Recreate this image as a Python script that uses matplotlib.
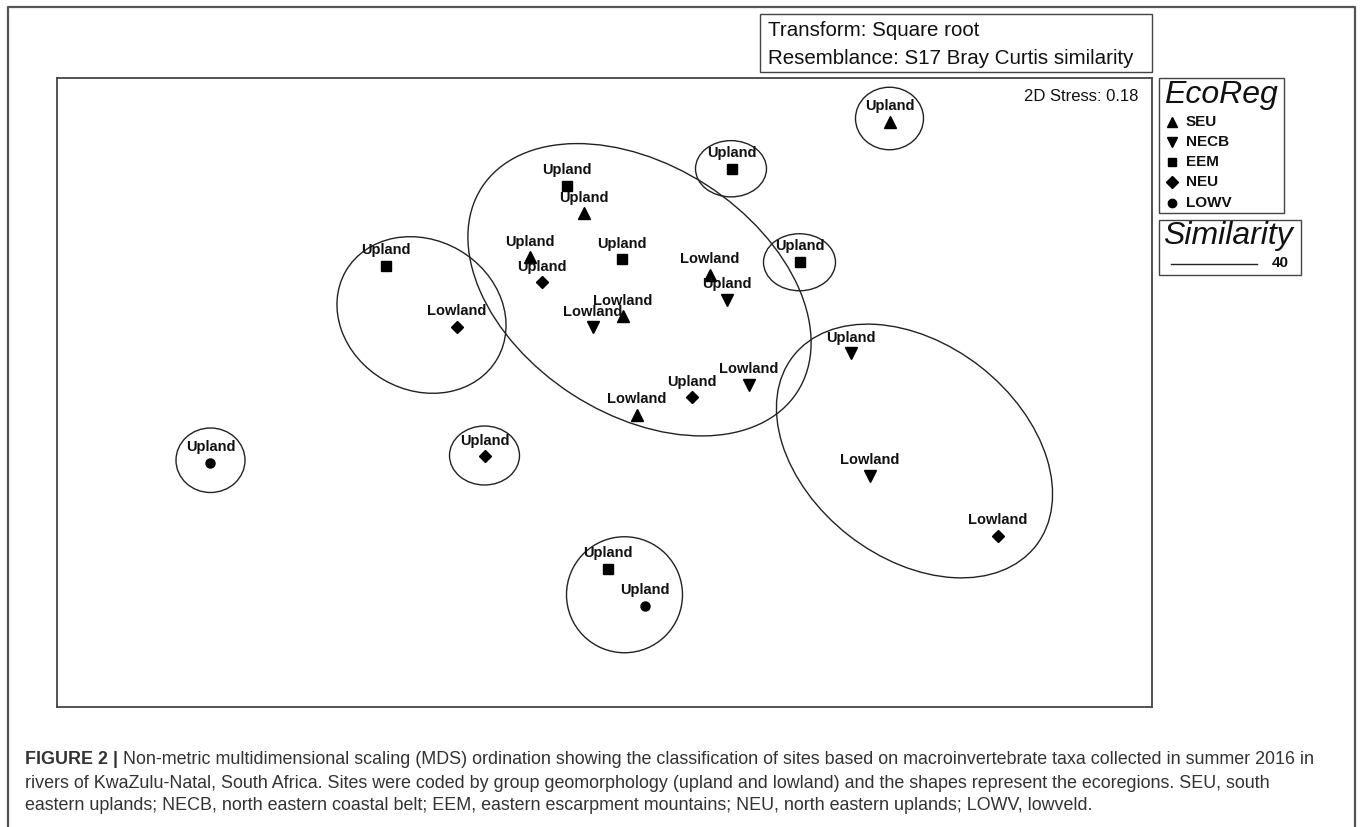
import matplotlib
matplotlib.use('Agg')
import matplotlib.pyplot as plt
from matplotlib.patches import Ellipse, Rectangle
from matplotlib.lines import Line2D

plt.rcParams['font.family'] = ['Liberation Sans', 'DejaVu Sans']

# MDS site scores (MDS1, MDS2)
mds1 = [1.14, 0.508, -0.152, -0.084, -0.30, 0.068, -0.252, -0.876, 0.78, 0.42, 0.488, 0.072,
        -0.048, -0.592, 0.984, 0.576, 0.348, 0.128, -1.576, -0.48, 1.06, 1.572, 0.012, 0.16]
mds2 = [1.079, 0.891, 0.825, 0.714, 0.538, 0.530, 0.438, 0.504, 0.519, 0.468, 0.368, 0.302,
        0.258, 0.261, 0.154, 0.029, -0.022, -0.092, -0.284, -0.258, -0.336, -0.575, -0.708, -0.855]
ecoreg = ['SEU', 'EEM', 'EEM', 'SEU', 'SEU', 'EEM', 'NEU', 'EEM', 'EEM', 'SEU', 'NECB', 'SEU',
          'NECB', 'NEU', 'NECB', 'NECB', 'NEU', 'SEU', 'LOWV', 'NEU', 'NECB', 'NEU', 'EEM', 'LOWV']
geomorph = ['Upland', 'Upland', 'Upland', 'Upland', 'Upland', 'Upland', 'Upland', 'Upland', 'Upland',
            'Lowland', 'Upland', 'Lowland', 'Lowland', 'Lowland', 'Upland', 'Lowland', 'Upland',
            'Lowland', 'Upland', 'Upland', 'Lowland', 'Lowland', 'Upland', 'Upland']

# similarity 40 contours: centre x, centre y, width, height, angle
cont_x = [0.14, -0.732, 1.24, 1.14, 0.506, 0.78, -1.576, -0.48, 0.08]
cont_y = [0.409, 0.308, -0.236, 1.094, 0.893, 0.519, -0.273, -0.254, -0.811]
cont_w = [1.504, 0.70, 1.232, 0.272, 0.284, 0.288, 0.276, 0.28, 0.464]
cont_h = [0.995, 0.60, 0.856, 0.25, 0.225, 0.228, 0.258, 0.236, 0.464]
cont_a = [-33, -30, -38, 0, 0, 0, 0, 0, 0]

regions = ['SEU', 'NECB', 'EEM', 'NEU', 'LOWV']
markers = {'SEU': '^', 'NECB': 'v', 'EEM': 's', 'NEU': 'D', 'LOWV': 'o'}
msizes = {'SEU': 8, 'NECB': 8, 'EEM': 7, 'NEU': 6, 'LOWV': 6.5}
leg_sizes = {'SEU': 7.5, 'NECB': 7.5, 'EEM': 6, 'NEU': 6, 'LOWV': 6}

W, H = 1363, 827
fig = plt.figure(figsize=(W / 100, H / 100), dpi=100)


def fx(px):
    return px / W


def fy(py):
    return 1 - py / H


# outer frame
fig.add_artist(Line2D([fx(8), fx(8), fx(1355), fx(1355)], [0, fy(7), fy(7), 0],
                      color='#555555', lw=1.6))

ax = fig.add_axes([fx(57), fy(707), fx(1152 - 57), (707 - 78) / H])
ax.set_xlim(-2.19, 2.19)
ax.set_ylim(-1.26, 1.256)
ax.set_xticks([])
ax.set_yticks([])
for s in ax.spines.values():
    s.set_color('#444444')
    s.set_linewidth(1.3)

for i in range(len(cont_x)):
    ax.add_patch(Ellipse((cont_x[i], cont_y[i]), cont_w[i], cont_h[i], angle=cont_a[i],
                         fill=False, ec='#222222', lw=1.0))

for r in regions:
    xs = [mds1[i] for i in range(len(mds1)) if ecoreg[i] == r]
    ys = [mds2[i] for i in range(len(mds2)) if ecoreg[i] == r]
    ax.plot(xs, ys, ls='none', marker=markers[r], ms=msizes[r], color='black')

for i in range(len(mds1)):
    ax.annotate(geomorph[i], (mds1[i], mds2[i]), xytext=(0, 11.5), textcoords='offset points',
                ha='center', va='center', fontsize=10.5, fontweight='bold', color='#111111')

ax.text(0.988, 0.97, '2D Stress: 0.18', transform=ax.transAxes, ha='right', va='center',
        fontsize=12, color='#111111')

# transform / resemblance box
fig.add_artist(Rectangle((fx(760), fy(72)), fx(1152 - 760), (72 - 14) / H, transform=fig.transFigure,
                         fill=False, ec='#444444', lw=1.0))
fig.text(fx(768), fy(30), 'Transform: Square root', fontsize=14.8, va='center', color='#111111')
fig.text(fx(768), fy(58), 'Resemblance: S17 Bray Curtis similarity', fontsize=14.8, va='center',
         color='#111111')

# EcoReg legend
fig.add_artist(Rectangle((fx(1159), fy(213)), fx(1284 - 1159), (213 - 78) / H, transform=fig.transFigure,
                         fill=False, ec='#444444', lw=1.0))
fig.text(fx(1164), fy(95), 'EcoReg', fontsize=23, style='italic', va='center', color='#111111')
leg_y = [122, 142, 162, 182, 203]
for r, py in zip(regions, leg_y):
    fig.add_artist(Line2D([fx(1172)], [fy(py)], ls='none', marker=markers[r], ms=leg_sizes[r],
                          color='black'))
    fig.text(fx(1186), fy(py), r, fontsize=11, fontweight='bold', va='center', color='#111111')

# Similarity legend
fig.add_artist(Rectangle((fx(1159), fy(275)), fx(1301 - 1159), (275 - 220) / H, transform=fig.transFigure,
                         fill=False, ec='#444444', lw=1.0))
fig.text(fx(1163), fy(236), 'Similarity', fontsize=23, style='italic', va='center', color='#111111')
fig.add_artist(Line2D([fx(1171), fx(1257)], [fy(264), fy(264)], color='#222222', lw=1.0))
fig.text(fx(1272), fy(263), '40', fontsize=11, fontweight='bold', va='center', color='#111111')

# caption
cap_col = '#333333'
cap_fs = 12.9
lines = ['Non-metric multidimensional scaling (MDS) ordination showing the classification of sites '
         'based on macroinvertebrate taxa collected in summer 2016 in',
         'rivers of KwaZulu-Natal, South Africa. Sites were coded by group geomorphology (upland and '
         'lowland) and the shapes represent the ecoregions. SEU, south',
         'eastern uplands; NECB, north eastern coastal belt; EEM, eastern escarpment mountains; NEU, '
         'north eastern uplands; LOWV, lowveld.']
t0 = fig.text(fx(25), fy(759), 'FIGURE 2 | ', fontsize=cap_fs, fontweight='bold', va='center', color=cap_col)
fig.canvas.draw()
bb = t0.get_window_extent(renderer=fig.canvas.get_renderer())
fig.text(bb.x1 / W, fy(759), lines[0], fontsize=cap_fs, va='center', color=cap_col)
fig.text(fx(25), fy(783), lines[1], fontsize=cap_fs, va='center', color=cap_col)
fig.text(fx(25), fy(806), lines[2], fontsize=cap_fs, va='center', color=cap_col)

fig.savefig('out.png', dpi=100)
